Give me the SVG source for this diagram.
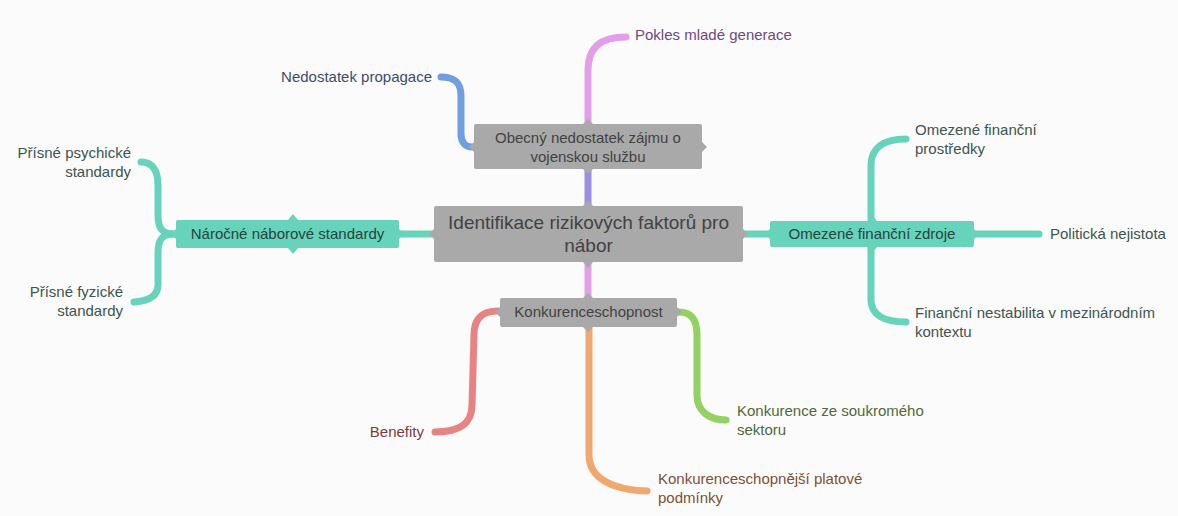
<svg xmlns="http://www.w3.org/2000/svg" width="1178" height="516" viewBox="0 0 1178 516">
<style>
text{font-family:"Liberation Sans",Arial,sans-serif;font-size:15px}
.big{font-size:19px}
.c{fill:none;stroke-width:7;stroke-linecap:round;stroke-linejoin:round}
.gray{fill:#a9a9a9}
.teal{fill:#68d3bb}
.nt{fill:#424242}
.tt{fill:#24443e}
</style>
<rect width="1178" height="516" fill="#fbfbfb"/>
<g id="connectors">
<path class="c" stroke="#9b8de6" d="M588,171 L588,204"/>
<path class="c" stroke="#e29fe9" d="M588,122 L588,70 C588,48 600,37 626,37"/>
<path class="c" stroke="#6f9fe0" d="M441,77 C454,77 461,82 461,96 L461,134 C461,142 465,147 472,147"/>
<path class="c" stroke="#68d3bb" d="M401,234 L432,234"/>
<path class="c" stroke="#68d3bb" d="M174,234 C162,234 158,228 158,215 L158,185 C158,170 152,162 141,162"/>
<path class="c" stroke="#68d3bb" d="M174,234 C162,234 158,240 158,253 L158,285 C158,296 148,301 134,302"/>
<path class="c" stroke="#68d3bb" d="M745,234 L768,234"/>
<path class="c" stroke="#68d3bb" d="M871,219 L871,165 C871,148 884,139 906,139"/>
<path class="c" stroke="#68d3bb" d="M871,249 L871,300 C871,315 884,322 906,322"/>
<path class="c" stroke="#68d3bb" d="M976,234 L1039,234"/>
<path class="c" stroke="#e29fe9" d="M588,264 L588,296"/>
<path class="c" stroke="#e88383" d="M498,311 C485,311 474,316 474,335 L472,405 C472,425 458,432 435,432"/>
<path class="c" stroke="#f1a86e" d="M589,329 L589,455 C589,478 612,490 647,491"/>
<path class="c" stroke="#92d162" d="M679,312 C690,312 697,318 697,335 L697,395 C697,412 710,420 726,420"/>
</g>
<g id="center">
<rect class="gray" x="434" y="206" width="309" height="56" rx="2"/>
<polygon class="gray" points="583,206 588,200 593,206"/>
<polygon class="gray" points="583,262 588,268 593,262"/>
<polygon class="gray" points="434,229 429,234 434,239"/>
<polygon class="gray" points="743,229 748,234 743,239"/>
<text class="nt big" x="588.5" y="229" text-anchor="middle">Identifikace rizikových faktorů pro</text>
<text class="nt big" x="588.5" y="252" text-anchor="middle">nábor</text>
</g>
<g id="obecny">
<rect class="gray" x="474" y="124" width="228" height="45" rx="2"/>
<polygon class="gray" points="583,124 588,119 593,124"/>
<polygon class="gray" points="583,169 588,174 593,169"/>
<polygon class="gray" points="474,142 469,147 474,152"/>
<polygon class="gray" points="702,142 707,147 702,152"/>
<text class="nt" x="588" y="143" text-anchor="middle">Obecný nedostatek zájmu o</text>
<text class="nt" x="588" y="162" text-anchor="middle">vojenskou službu</text>
</g>
<g id="pokles"><text x="635" y="40" fill="#6f4a7a">Pokles mladé generace</text></g>
<g id="propagace"><text x="432" y="82" text-anchor="end" fill="#3c4c6c">Nedostatek propagace</text></g>
<g id="narocne">
<rect class="teal" x="176" y="220" width="223" height="28" rx="2"/>
<polygon class="teal" points="288,220 293,214 298,220"/>
<polygon class="teal" points="288,248 293,254 298,248"/>
<polygon class="teal" points="176,229 171,234 176,239"/>
<polygon class="teal" points="399,229 404,234 399,239"/>
<text class="tt" x="287.5" y="239" text-anchor="middle">Náročné náborové standardy</text>
</g>
<g id="psychicke"><text x="131" y="158" text-anchor="end" fill="#3d5450">Přísné psychické</text><text x="131" y="177" text-anchor="end" fill="#3d5450">standardy</text></g>
<g id="fyzicke"><text x="123" y="297" text-anchor="end" fill="#3d5450">Přísné fyzické</text><text x="123" y="316" text-anchor="end" fill="#3d5450">standardy</text></g>
<g id="omezene">
<rect class="teal" x="770" y="221" width="204" height="26" rx="2"/>
<polygon class="teal" points="867,221 872,215 877,221"/>
<polygon class="teal" points="867,247 872,253 877,247"/>
<polygon class="teal" points="770,229 765,234 770,239"/>
<polygon class="teal" points="974,229 979,234 974,239"/>
<text class="tt" x="872" y="239" text-anchor="middle">Omezené finanční zdroje</text>
</g>
<g id="prostredky"><text x="915" y="135" fill="#3d5450">Omezené finanční</text><text x="915" y="154" fill="#3d5450">prostředky</text></g>
<g id="politicka"><text x="1050" y="239" fill="#3d5450">Politická nejistota</text></g>
<g id="nestabilita"><text x="915" y="318" fill="#3d5450">Finanční nestabilita v mezinárodním</text><text x="915" y="337" fill="#3d5450">kontextu</text></g>
<g id="konkurenceschopnost">
<rect class="gray" x="500" y="298" width="177" height="29" rx="2"/>
<polygon class="gray" points="583,298 588,293 593,298"/>
<polygon class="gray" points="583,327 588,332 593,327"/>
<polygon class="gray" points="500,307 495,312 500,317"/>
<polygon class="gray" points="677,307 682,312 677,317"/>
<text class="nt" x="588.5" y="317" text-anchor="middle">Konkurenceschopnost</text>
</g>
<g id="benefity"><text x="424" y="437" text-anchor="end" fill="#7a3c3c">Benefity</text></g>
<g id="platove"><text x="658" y="484" fill="#7a5234">Konkurenceschopnější platové</text><text x="658" y="503" fill="#7a5234">podmínky</text></g>
<g id="soukromy"><text x="737" y="416" fill="#4f6a38">Konkurence ze soukromého</text><text x="737" y="435" fill="#4f6a38">sektoru</text></g>
</svg>
